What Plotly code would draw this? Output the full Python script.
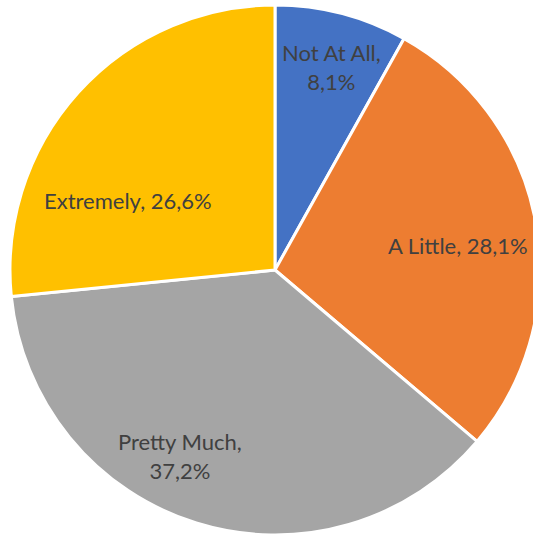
import plotly.graph_objects as go

categories = ["Not At All", "A Little", "Pretty Much", "Extremely"]
shares = [8.1, 28.1, 37.2, 26.6]
slice_colors = ["#4472C4", "#ED7D31", "#A5A5A5", "#FFC000"]
# label line break after the category name (True) or single-line label (False)
label_wrap = [True, False, True, False]

W, H = 540, 535

# data-label anchor points in page pixels (x from left, y from top)
label_anchor_px = [(331, 67), (458, 246), (180, 456), (128, 200)]


def fmt_pct(v):
    return f"{v:.1f}".replace(".", ",") + "%"


fig = go.Figure(
    go.Pie(
        labels=categories,
        values=shares,
        sort=False,
        direction="clockwise",
        rotation=0,
        marker=dict(colors=slice_colors, line=dict(color="white", width=3)),
        textinfo="none",
        hoverinfo="label+percent",
        showlegend=False,
        domain=dict(x=[10 / W, 1], y=[0, 530 / H]),
    )
)

for name, val, wrap, (px, py) in zip(categories, shares, label_wrap, label_anchor_px):
    sep = ",<br>" if wrap else ", "
    fig.add_annotation(
        text=f"{name}{sep}{fmt_pct(val)}",
        x=px / W,
        y=1 - py / H,
        xref="paper",
        yref="paper",
        xanchor="center",
        yanchor="middle",
        align="center",
        showarrow=False,
        font=dict(family="Lato, 'Open Sans', sans-serif", size=22, color="#404040"),
    )

fig.update_layout(
    width=W,
    height=H,
    margin=dict(l=0, r=0, t=0, b=0),
    paper_bgcolor="white",
    plot_bgcolor="white",
    separators=",.",
)

fig.write_html(
    "out.html",
    post_script="document.documentElement.style.overflow='hidden';document.body.style.overflow='hidden';document.body.style.margin='0';",
)
